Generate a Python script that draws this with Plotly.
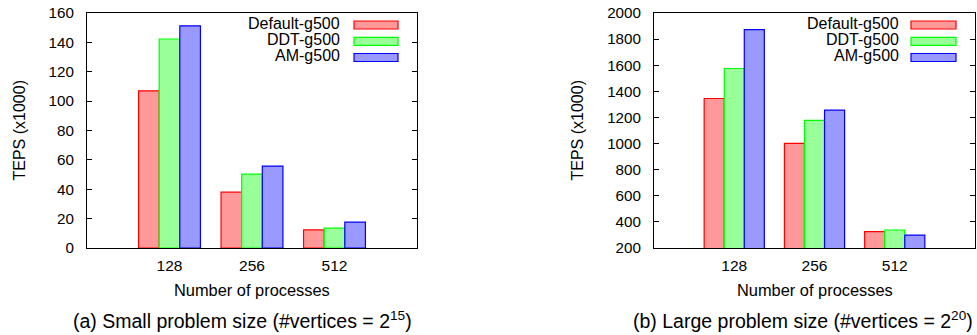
import plotly.graph_objects as go

categories = ["128", "256", "512"]
series_names = ["Default-g500", "DDT-g500", "AM-g500"]

small_default = [107, 38, 12.3]
small_ddt = [142.3, 50.3, 13.5]
small_am = [151.3, 55.8, 17.6]

large_default = [1345, 1002, 325]
large_ddt = [1575, 1177, 338]
large_am = [1872, 1256, 298]

fills = ["rgb(255,153,153)", "rgb(153,255,153)", "rgb(153,153,255)"]
borders = ["rgb(255,0,0)", "rgb(0,255,0)", "rgb(0,0,255)"]

W, H = 977, 335
FONT = "Liberation Sans, Arial, Helvetica, sans-serif"

fig = go.Figure()

xpos = list(range(len(categories)))
panels = [
    ("x", "y", [small_default, small_ddt, small_am]),
    ("x2", "y2", [large_default, large_ddt, large_am]),
]
for xa, ya, data in panels:
    for name, vals, fc, bc in zip(series_names, data, fills, borders):
        fig.add_trace(go.Bar(
            x=xpos, y=vals, name=name, xaxis=xa, yaxis=ya,
            marker=dict(color=fc, line=dict(color=bc, width=1.2)),
            showlegend=False,
        ))

# pixel geometry
L1, R1 = 87, 417
L2, R2 = 654, 975
T, B = 13, 248

def px_x(p):
    return p / W

def px_y(p):
    return 1 - p / H

ydom = [px_y(B), px_y(T)]

common_x = dict(
    range=[-1, 3], tickvals=xpos, ticktext=categories,
    showline=True, linecolor="black", linewidth=1, mirror=True,
    ticks="", showgrid=False, zeroline=False, automargin=False,
    tickfont=dict(family=FONT, size=15.5, color="black"),
    ticklabelstandoff=3,
)
common_top = dict(
    range=[-1, 3], tickvals=xpos, showticklabels=False,
    ticks="inside", ticklen=5, tickcolor="black", tickwidth=1,
    showline=False, showgrid=False, zeroline=False, side="top",
    automargin=False,
)
common_y = dict(
    showline=True, linecolor="black", linewidth=1, mirror="allticks",
    ticks="inside", ticklen=5, tickcolor="black", tickwidth=1,
    showgrid=False, zeroline=False, automargin=False,
    tickfont=dict(family=FONT, size=15.2, color="black"),
    ticklabelstandoff=9,
)

fig.update_layout(
    width=W, height=H,
    margin=dict(l=0, r=0, t=0, b=0, autoexpand=False),
    paper_bgcolor="white", plot_bgcolor="white",
    barmode="group", bargap=0.25, bargroupgap=0,
    showlegend=False,
    xaxis=dict(domain=[px_x(L1), px_x(R1)], anchor="y", **common_x),
    yaxis=dict(domain=ydom, anchor="x", range=[0, 160], dtick=20, **common_y),
    xaxis2=dict(domain=[px_x(L2), px_x(R2)], anchor="y2", **common_x),
    yaxis2=dict(domain=ydom, anchor="x2", range=[200, 2000], dtick=200, **common_y),
    xaxis3=dict(overlaying="x", anchor="y", **common_top),
    xaxis4=dict(overlaying="x2", anchor="y2", **common_top),
)

annotations = []
shapes = []

# custom gnuplot-style legends (text left of swatch)
row_y = [25, 41.3, 57.5]
for text_right, sw_l, sw_r in [(342, 354, 398), (901, 911, 956)]:
    for name, fc, bc, ry in zip(series_names, fills, borders, row_y):
        annotations.append(dict(
            x=px_x(text_right), y=px_y(ry - 1.5), xref="paper", yref="paper",
            text=name, showarrow=False, xanchor="right", yanchor="middle",
            font=dict(family=FONT, size=16, color="black"),
        ))
        shapes.append(dict(
            type="rect", xref="paper", yref="paper",
            x0=px_x(sw_l), x1=px_x(sw_r), y0=px_y(ry - 4), y1=px_y(ry + 4),
            fillcolor=fc, line=dict(color=bc, width=1.2),
        ))

# axis titles
for cx, lab_x in [((L1 + R1) / 2, 19), ((L2 + R2) / 2, 577)]:
    annotations.append(dict(
        x=px_x(cx), y=px_y(290), xref="paper", yref="paper",
        text="Number of processes", showarrow=False,
        xanchor="center", yanchor="middle",
        font=dict(family=FONT, size=16.4, color="black"),
    ))
    annotations.append(dict(
        x=px_x(lab_x), y=px_y((T + B) / 2), xref="paper", yref="paper",
        text="TEPS (x1000)", showarrow=False, textangle=-90,
        xanchor="center", yanchor="middle",
        font=dict(family=FONT, size=16, color="black"),
    ))

# captions
annotations.append(dict(
    x=px_x(242), y=px_y(320), xref="paper", yref="paper",
    text="(a) Small problem size (#vertices = 2<sup>15</sup>)", showarrow=False,
    xanchor="center", yanchor="middle",
    font=dict(family=FONT, size=19.5, color="black"),
))
annotations.append(dict(
    x=px_x(803), y=px_y(320), xref="paper", yref="paper",
    text="(b) Large problem size (#vertices = 2<sup>20</sup>)", showarrow=False,
    xanchor="center", yanchor="middle",
    font=dict(family=FONT, size=19.5, color="black"),
))

fig.update_layout(annotations=annotations, shapes=shapes)

fig.write_html(
    "out.html",
    config={"displayModeBar": False, "staticPlot": True},
    post_script="document.body.style.margin='0';document.body.style.overflow='hidden';",
)
